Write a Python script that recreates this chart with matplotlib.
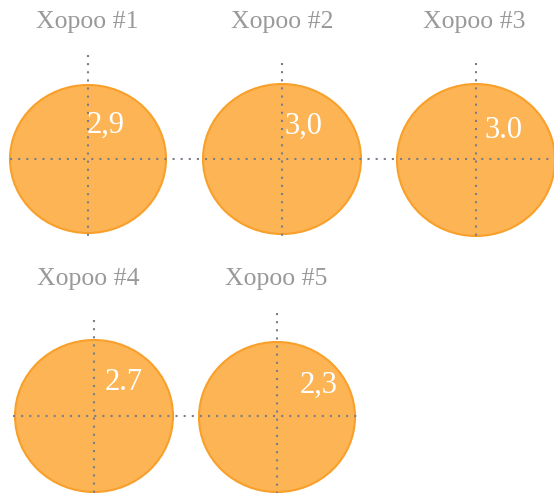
#!/usr/bin/env python3
"""Five orange circles with dotted crosshairs and value labels."""

import matplotlib
matplotlib.use("Agg")
import matplotlib.pyplot as plt
from matplotlib.patches import Ellipse

# data
TITLES = ["Xopoo #1", "Xopoo #2", "Xopoo #3", "Xopoo #4", "Xopoo #5"]
LABELS = ["2,9", "3,0", "3.0", "2.7", "2,3"]

# layout (pixel coords, y downwards)
CENTERS = [(88, 159), (282, 159), (476, 160), (94, 416), (277, 417)]
RADII = [(78, 74), (79, 75), (79, 76), (79, 76), (78, 75)]
VTOPS = [55, 63, 63, 320, 313]
LABEL_POS = [(87, 125), (284, 126), (484, 131), (105, 382), (300, 385)]
TITLE_POS = [(87, 22), (282, 22), (474, 22), (88, 279), (276, 279)]
ROW_LINES = [(159, 10, 554), (416, 13, 357)]

FILL = "#fdb455"
EDGE = "#f8a02a"
DOT = "#787e8a"
GREY = "#999999"
SERIF = ["Liberation Serif", "DejaVu Serif"]


def main():
    fig = plt.figure(figsize=(5.54, 4.93), dpi=100)
    ax = fig.add_axes([0, 0, 1, 1])
    ax.set_xlim(0, 554)
    ax.set_ylim(493, 0)
    ax.axis("off")

    dots = dict(color=DOT, linewidth=1.5, linestyle=(0, (1, 2.9)), zorder=2)

    for (cx, cy), (rx, ry) in zip(CENTERS, RADII):
        ax.add_patch(Ellipse((cx, cy), 2 * rx, 2 * ry, facecolor=FILL,
                             edgecolor=EDGE, linewidth=1.5, zorder=1))

    for y, x0, x1 in ROW_LINES:
        ax.plot([x0, x1], [y, y], **dots)

    for (cx, cy), (rx, ry), top in zip(CENTERS, RADII, VTOPS):
        ax.plot([cx, cx], [top, cy + ry + 3], **dots)

    for (tx, ty), title in zip(TITLE_POS, TITLES):
        ax.text(tx, ty, title, ha="center", va="center", color=GREY,
                fontsize=18.5, family=SERIF)

    for (lx, ly), lab in zip(LABEL_POS, LABELS):
        ax.text(lx, ly, lab, ha="left", va="center", color="white",
                fontsize=22, family=SERIF, zorder=3)

    fig.savefig("out.png", dpi=100)
    plt.close(fig)


if __name__ == "__main__":
    main()
